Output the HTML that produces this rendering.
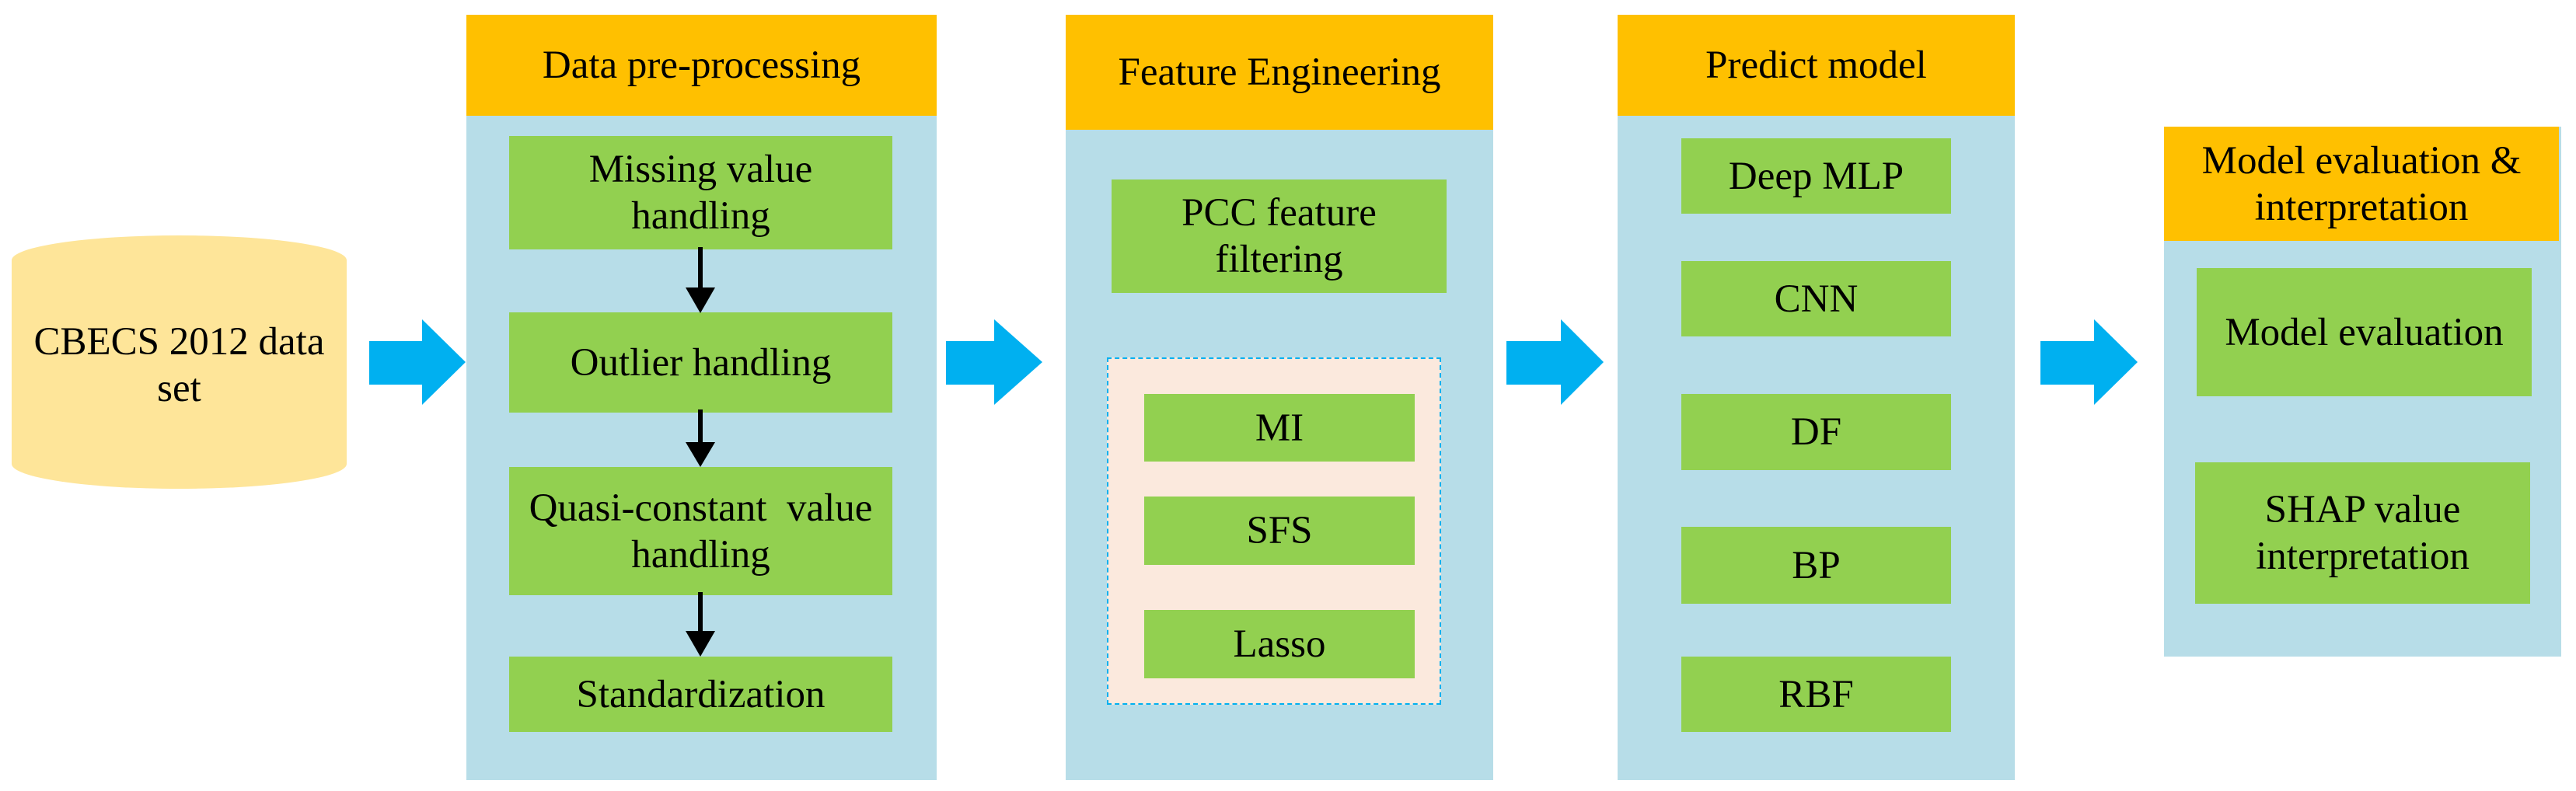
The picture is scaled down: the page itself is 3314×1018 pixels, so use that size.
<!DOCTYPE html>
<html><head><meta charset="utf-8"><style>
html,body{margin:0;padding:0;background:#fff;}
body{width:3314px;height:1018px;position:relative;overflow:hidden;font-family:"Liberation Serif","Times New Roman",serif;color:#000;}
.b{position:absolute;display:flex;align-items:center;justify-content:center;text-align:center;font-family:"Liberation Serif","Times New Roman",serif;font-size:51px;line-height:60px;box-sizing:border-box;}
.h{background:#ffc000;}
.p{background:#b7dde8;}
.g{background:#92d050;}
svg{position:absolute;left:0;top:0;}
</style></head><body>
<svg width="3314" height="1018">
 <path d="M15 335 A215.5 32 0 0 1 446 335 L446 597 A215.5 32 0 0 1 15 597 Z" fill="#fee599"/>
 <polygon points="475,439 543,439 543,411 599,466 543,521 543,495 475,495" fill="#00b0f0"/>
 <polygon points="1217,439 1279,439 1279,411 1341,466 1279,521 1279,495 1217,495" fill="#00b0f0"/>
 <polygon points="1938,439 2008,439 2008,411 2063,466 2008,521 2008,495 1938,495" fill="#00b0f0"/>
 <polygon points="2625,439 2694,439 2694,411 2750,466 2694,521 2694,495 2625,495" fill="#00b0f0"/>
</svg>
<div class="b" style="left:15px;top:400px;width:431px;height:140px;">CBECS 2012 data<br>set</div>

<div class="b p" style="left:600px;top:19px;width:605px;height:985px;"></div>
<div class="b h" style="left:600px;top:19px;width:605px;height:130px;">Data pre-processing</div>
<div class="b g" style="left:655px;top:175px;width:493px;height:146px;">Missing value<br>handling</div>
<div class="b g" style="left:655px;top:402px;width:493px;height:129px;">Outlier handling</div>
<div class="b g" style="left:655px;top:601px;width:493px;height:165px;">Quasi-constant&nbsp; value<br>handling</div>
<div class="b g" style="left:655px;top:845px;width:493px;height:97px;">Standardization</div>
<svg width="3314" height="1018" style="pointer-events:none">
 <g fill="#000" stroke="#000">
  <line x1="901" y1="318" x2="901" y2="380" stroke-width="6"/><polygon points="882,370 920,370 901,403" stroke="none"/>
  <line x1="901" y1="527" x2="901" y2="580" stroke-width="6"/><polygon points="882,569 920,569 901,601" stroke="none"/>
  <line x1="901" y1="762" x2="901" y2="822" stroke-width="6"/><polygon points="882,812 920,812 901,845" stroke="none"/>
 </g>
</svg>

<div class="b p" style="left:1371px;top:19px;width:550px;height:985px;"></div>
<div class="b h" style="left:1371px;top:19px;width:550px;height:148px;">Feature Engineering</div>
<div class="b g" style="left:1430px;top:231px;width:431px;height:146px;">PCC feature<br>filtering</div>
<div class="b" style="left:1424px;top:460px;width:430px;height:447px;background:#fbe9dd;border:2px dashed #00b0f0;"></div>
<div class="b g" style="left:1472px;top:507px;width:348px;height:87px;">MI</div>
<div class="b g" style="left:1472px;top:639px;width:348px;height:88px;">SFS</div>
<div class="b g" style="left:1472px;top:785px;width:348px;height:88px;">Lasso</div>

<div class="b p" style="left:2081px;top:19px;width:511px;height:985px;"></div>
<div class="b h" style="left:2081px;top:19px;width:511px;height:130px;">Predict model</div>
<div class="b g" style="left:2163px;top:178px;width:347px;height:97px;">Deep MLP</div>
<div class="b g" style="left:2163px;top:336px;width:347px;height:97px;">CNN</div>
<div class="b g" style="left:2163px;top:507px;width:347px;height:98px;">DF</div>
<div class="b g" style="left:2163px;top:678px;width:347px;height:99px;">BP</div>
<div class="b g" style="left:2163px;top:845px;width:347px;height:97px;">RBF</div>

<div class="b p" style="left:2784px;top:163px;width:511px;height:682px;"></div>
<div class="b h" style="left:2784px;top:163px;width:508px;height:147px;">Model evaluation &amp;<br>interpretation</div>
<div class="b g" style="left:2826px;top:345px;width:431px;height:165px;">Model evaluation</div>
<div class="b g" style="left:2824px;top:595px;width:431px;height:182px;">SHAP value<br>interpretation</div>
</body></html>
